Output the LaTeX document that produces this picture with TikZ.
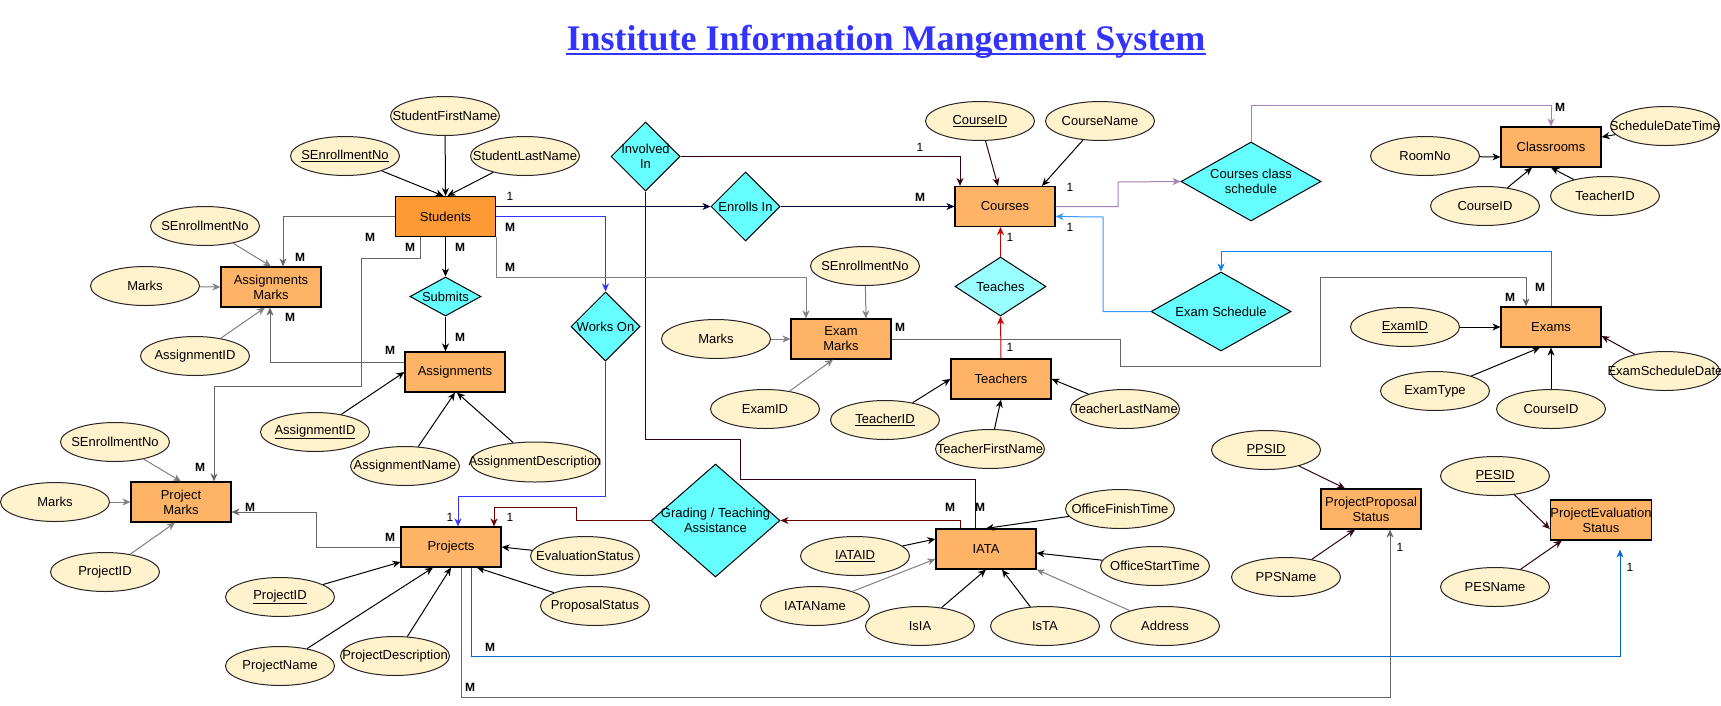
\documentclass[tikz,border=0pt]{standalone}
\usepackage{fontspec}
\setmainfont{Liberation Sans}
\newfontfamily\titlefont{Liberation Serif}
\usetikzlibrary{shapes.geometric,arrows.meta,calc}
\definecolor{entfill}{HTML}{FFB366}
\definecolor{stufill}{HTML}{FF9933}
\definecolor{attfill}{HTML}{FFF2CC}
\definecolor{relfill}{HTML}{66FFFF}
\definecolor{relfillb}{HTML}{99FFFF}
\definecolor{cnavy}{HTML}{000033}
\definecolor{cmaroon}{HTML}{33001A}
\definecolor{cdred}{HTML}{660000}
\definecolor{cblue}{HTML}{3333FF}
\definecolor{cred}{HTML}{CC0000}
\definecolor{clblue}{HTML}{3399FF}
\definecolor{cmblue}{HTML}{007FFF}
\definecolor{cdblue}{HTML}{0066CC}
\definecolor{cpurple}{HTML}{A680B8}
\definecolor{cgray}{HTML}{666666}
\definecolor{clgray}{HTML}{808080}
\definecolor{titleblue}{HTML}{3333FF}
\newcommand{\zw}[1]{\makebox[0pt][c]{#1}}
\begin{document}
\begin{tikzpicture}[x=1pt,y=-1pt,
 font=\fontsize{13}{15}\selectfont,
 ent/.style={draw=black, line width=1.2pt, fill=entfill, minimum width=100pt, minimum height=40pt, inner sep=0pt, align=center},
 att/.style={ellipse, draw=black!85, line width=1pt, fill=attfill, minimum width=109pt, minimum height=39pt, inner sep=0pt},
 rel/.style={diamond, draw=black, line width=1pt, fill=relfill, inner sep=0pt},
 rtext/.style={align=center, inner sep=0pt},
 con/.style={line width=1pt},
 arr/.style={con, -{Stealth[length=8pt,width=7pt,inset=2.5pt]}},
 lab/.style={font=\fontsize{12}{14}\selectfont, inner sep=0pt},
 mlab/.style={font=\fontsize{12}{14}\selectfont\bfseries, inner sep=0pt}
]
\fill[white] (0,0) rectangle (1721,705);
\useasboundingbox (0,0) rectangle (1721,705);

% title
\node[font=\titlefont\bfseries\fontsize{36}{40}\selectfont, text=titleblue, anchor=base, inner sep=0pt] (title) at (886,50) {Institute Information Mangement System};
\draw[titleblue, line width=2pt] ($(title.base west)+(0,4)$) -- ($(title.base east)+(0,4)$);

% entities
\node[ent, fill=stufill] (stu) at (445.5,216.5) {Students};
\node[ent] (am) at (271,287) {Assignments\\Marks};
\node[ent] (asg) at (455,372) {Assignments};
\node[ent] (pm) at (181,502) {Project\\Marks};
\node[ent] (prj) at (451,547) {Projects};
\node[ent] (crs) at (1005,206.5) {Courses};
\node[ent] (em) at (841,339) {Exam\\Marks};
\node[ent] (tch) at (1001,379) {Teachers};
\node[ent] (iata) at (986,549) {IATA};
\node[ent] (cls) at (1551,147) {Classrooms};
\node[ent] (exm) at (1551,327) {Exams};
\node[ent] (pps) at (1371,509) {ProjectProposal\\Status};
\node[ent] (pes) at (1601,520) {ProjectEvaluation\\Status};

% relationships
\node[rel, minimum width=71pt, minimum height=39pt] (sub) at (445.5,296.5) {};
\node[rtext] (subt) at (sub) {Submits};
\node[rel, minimum width=69pt, minimum height=69pt] (wo) at (605.5,326.5) {};
\node[rtext] (wot) at (wo) {Works On};
\node[rel, minimum width=69pt, minimum height=69pt] (inv) at (645.5,156.5) {};
\node[rtext] (invt) at (inv) {Involved\\In};
\node[rel, minimum width=69pt, minimum height=69pt] (enr) at (745.5,206.5) {};
\node[rtext] (enrt) at (enr) {Enrolls In};
\node[rel, fill=relfillb, minimum width=91pt, minimum height=59pt] (tea) at (1000.5,286.5) {};
\node[rtext] (teat) at (tea) {Teaches};
\node[rel, minimum width=129pt, minimum height=113pt] (gta) at (715.5,520.5) {};
\node[rtext] (gtat) at (gta) {Grading / Teaching\\Assistance};
\node[rel, minimum width=140pt, minimum height=79pt] (exs) at (1221,311.5) {};
\node[rtext] (exst) at (exs) {Exam Schedule};
\node[rel, minimum width=140pt, minimum height=79pt] (ccs) at (1251,181.5) {};
\node[rtext] (ccst) at (ccs) {Courses class\\schedule};

% attributes
\node[att] (a_sen) at (345,156) {\zw{\underline{SEnrollmentNo}}};
\node[att] (a_sfn) at (445,116) {\zw{StudentFirstName}};
\node[att] (a_sln) at (525,156) {\zw{StudentLastName}};
\node[att] (a_amsen) at (205,226) {\zw{SEnrollmentNo}};
\node[att] (a_ammk) at (145,286) {\zw{Marks}};
\node[att] (a_amaid) at (195,356) {\zw{AssignmentID}};
\node[att] (a_aid) at (315,432) {\zw{\underline{AssignmentID}}};
\node[att] (a_an) at (405,466) {\zw{AssignmentName}};
\node[att, minimum width=129pt, minimum height=40pt] (a_ad) at (535,462) {\zw{AssignmentDescription}};
\node[att] (a_pmsen) at (115,442) {\zw{SEnrollmentNo}};
\node[att] (a_pmmk) at (55,502) {\zw{Marks}};
\node[att] (a_pmpid) at (105,572) {\zw{ProjectID}};
\node[att] (a_pid) at (280,597) {\zw{\underline{ProjectID}}};
\node[att] (a_pn) at (280,666) {\zw{ProjectName}};
\node[att] (a_pd) at (395,656) {\zw{ProjectDescription}};
\node[att] (a_es) at (585,556) {\zw{EvaluationStatus}};
\node[att] (a_ps) at (595,606) {\zw{ProposalStatus}};
\node[att] (a_cid) at (980,121) {\zw{\underline{CourseID}}};
\node[att] (a_cn) at (1100,121) {\zw{CourseName}};
\node[att] (a_emsen) at (865,266) {\zw{SEnrollmentNo}};
\node[att] (a_emmk) at (716,339) {\zw{Marks}};
\node[att] (a_emeid) at (765,409) {\zw{ExamID}};
\node[att] (a_tid) at (885,420) {\zw{\underline{TeacherID}}};
\node[att] (a_tfn) at (990,449) {\zw{TeacherFirstName}};
\node[att] (a_tln) at (1125,409) {\zw{TeacherLastName}};
\node[att] (a_iid) at (855,556) {\zw{\underline{IATAID}}};
\node[att] (a_in) at (815,606) {\zw{IATAName}};
\node[att] (a_isia) at (920,626) {\zw{IsIA}};
\node[att] (a_ista) at (1045,626) {\zw{IsTA}};
\node[att] (a_addr) at (1165,626) {\zw{Address}};
\node[att] (a_ost) at (1155,566) {\zw{OfficeStartTime}};
\node[att] (a_oft) at (1120,509) {\zw{OfficeFinishTime}};
\node[att] (a_rno) at (1425,156) {\zw{RoomNo}};
\node[att] (a_ccid) at (1485,206) {\zw{CourseID}};
\node[att] (a_ctid) at (1605,196) {\zw{TeacherID}};
\node[att] (a_sdt) at (1665,126) {\zw{ScheduleDateTime}};
\node[att] (a_eid) at (1405,327) {\zw{\underline{ExamID}}};
\node[att] (a_et) at (1435,391) {\zw{ExamType}};
\node[att] (a_ecid) at (1551,409) {\zw{CourseID}};
\node[att] (a_esd) at (1665,371) {\zw{ExamScheduleDate}};
\node[att] (a_ppsid) at (1266,450) {\zw{\underline{PPSID}}};
\node[att] (a_ppsn) at (1286,577) {\zw{PPSName}};
\node[att] (a_pesid) at (1495,476) {\zw{\underline{PESID}}};
\node[att] (a_pesn) at (1495,587) {\zw{PESName}};

% attribute connectors
\draw[arr] (a_sen) -- ($(stu.north)+(-2,0)$);
\draw[arr] (a_sfn) -- (stu.north);
\draw[arr] (a_sln) -- ($(stu.north)+(2,0)$);
\draw[arr,clgray] (a_amsen) -- (am.north);
\draw[arr,clgray] (a_ammk) -- (am.west);
\draw[arr,clgray] (a_amaid) -- ($(am.south)+(-6,0)$);
\draw[arr] (a_aid) -- (asg.west);
\draw[arr] (a_an) -- (asg.south);
\draw[arr] (a_ad) -- ($(asg.south)+(2,0)$);
\draw[arr,clgray] (a_pmsen) -- (pm.north);
\draw[arr,clgray] (a_pmmk) -- (pm.west);
\draw[arr,clgray] (a_pmpid) -- ($(pm.south)+(-6,0)$);
\draw[arr] (a_pid) -- ($(prj.west)+(0,15)$);
\draw[arr] (a_pn) -- ($(prj.south)+(-18,0)$);
\draw[arr] (a_pd) -- (prj.south);
\draw[arr] (a_es) -- (prj.east);
\draw[arr] (a_ps) -- ($(prj.south)+(26,0)$);
\draw[arr,cmaroon] (a_cid) -- ($(crs.north)+(-7,0)$);
\draw[arr] (a_cn) -- ($(crs.north)+(37,0)$);
\draw[arr,clgray] (a_emsen) -- ($(em.north)+(25,0)$);
\draw[arr,clgray] (a_emmk) -- (em.west);
\draw[arr,clgray] (a_emeid) -- ($(em.south)+(-8,0)$);
\draw[arr] (a_tid) -- (tch.west);
\draw[arr] (a_tfn) -- (tch.south);
\draw[arr] (a_tln) -- (tch.east);
\draw[arr] (a_iid) -- ($(iata.west)+(0,-10)$);
\draw[arr,clgray] (a_in) -- ($(iata.west)+(0,10)$);
\draw[arr] (a_isia) -- (iata.south);
\draw[arr] (a_ista) -- ($(iata.south)+(16,0)$);
\draw[arr,clgray] (a_addr) -- (iata.south east);
\draw[arr] (a_ost) -- ($(iata.east)+(0,4)$);
\draw[arr] (a_oft) -- (iata.north);
\draw[arr] (a_rno) -- ($(cls.west)+(0,10)$);
\draw[arr] (a_ccid) -- ($(cls.south)+(-19,0)$);
\draw[arr] (a_ctid) -- (cls.south);
\draw[arr] (a_sdt) -- ($(cls.east)+(0,-10)$);
\draw[arr] (a_eid) -- (exm.west);
\draw[arr] (a_et) -- ($(exm.south)+(-11,0)$);
\draw[arr] (a_ecid) -- (exm.south);
\draw[arr,cmaroon] (a_esd) -- ($(exm.east)+(0,9)$);
\draw[arr,cmaroon] (a_ppsid) -- ($(pps.north)+(-26,0)$);
\draw[arr,cmaroon] (a_ppsn) -- ($(pps.south)+(-16,0)$);
\draw[arr,cmaroon] (a_pesid) -- ($(pes.west)+(0,9)$);
\draw[arr,cmaroon] (a_pesn) -- ($(pes.south west)+(12,0)$);

% relationship connectors
\draw[arr,cgray] (stu.west) -| ($(am.north)+(12,0)$);
\draw[arr,cgray] ($(stu.south)+(-25,0)$) -- ++(0,21) -| (361,386) -| ($(pm.north)+(33,0)$);
\draw[arr] (stu.south) -- (sub.north);
\draw[arr] (sub.south) -- (sub.south |- asg.north);
\draw[arr,cgray] ($(asg.west)+(0,-10)$) -| ($(am.south)+(-1,0)$);
\draw[arr,cblue] (stu.east) -| (wo.north);
\draw[arr,cblue] (wo.south) -- (605.5,496) -| ($(prj.north)+(7,0)$);
\draw[arr,cnavy] ($(stu.east)+(0,-10)$) -- (enr.west);
\draw[arr,cnavy] (enr.east) -- (crs.west);
\draw[arr,cmaroon] (inv.east) -| ($(crs.north)+(-45,0)$);
\draw[con,cmaroon] (inv.south) |- (740,439) -- (740,479) -| ($(iata.north)+(-11,0)$);
\draw[arr,cdred] ($(iata.north)+(-26,0)$) |- (gta.east);
\draw[arr,cdred] (gta.west) -| (576,507) -| ($(prj.north)+(43,0)$);
\draw[arr,cgray] (prj.west) -| (316,512) -- ($(pm.east)+(0,10)$);
\draw[arr,cgray] ($(prj.south)+(10,0)$) |- (1390,697) -- ($(pps.south)+(19,0)$);
\draw[arr,cdblue] ($(prj.south)+(20,0)$) |- (1620,656) -- ($(pes.south)+(19,9)$);
\draw[arr,clgray] (stu.south east) |- (806,277) -- ($(em.north)+(-35,0)$);
\draw[arr,cgray] (em.east) -| (1120,366) -| (1320,277) -| ($(exm.north)+(-25,0)$);
\draw[arr,clblue] (exs.west) -| (1103,217) -- ($(crs.east)+(0,10)$);
\draw[arr,cmblue] (exm.north) -- ++(0,-55) -| (exs.north);
\draw[arr,cpurple] (crs.east) -| (1118,182) -- (ccs.west);
\draw[arr,cpurple] (ccs.north) |- ($(cls.north)+(0,-21)$) -- (cls.north);
\draw[arr,cred] (tea.north) -- (tea.north |- crs.south);
\draw[arr,cred] (tch.north) -- (tea.south);

% cardinality labels
\node[lab] (l1) at (510,196) {1};
\node[mlab] (l2) at (920,197) {M};
\node[lab] (l3) at (920,147) {1};
\node[mlab] (l4) at (510,227) {M};
\node[mlab] (l5) at (510,267) {M};
\node[mlab] (l6) at (460,247) {M};
\node[mlab] (l7) at (460,337) {M};
\node[mlab] (l8) at (370,237) {M};
\node[mlab] (l9) at (410,247) {M};
\node[mlab] (l10) at (300,257) {M};
\node[mlab] (l11) at (290,317) {M};
\node[mlab] (l12) at (390,350) {M};
\node[mlab] (l13) at (200,467) {M};
\node[mlab] (l14) at (250,507) {M};
\node[mlab] (l15) at (390,537) {M};
\node[lab] (l16) at (450,517) {1};
\node[lab] (l17) at (510,517) {1};
\node[mlab] (l18) at (490,647) {M};
\node[mlab] (l19) at (470,687) {M};
\node[mlab] (l20) at (950,507) {M};
\node[mlab] (l21) at (980,507) {M};
\node[lab] (l22) at (1400,547) {1};
\node[lab] (l23) at (1630,567) {1};
\node[mlab] (l24) at (900,327) {M};
\node[lab] (l25) at (1070,187) {1};
\node[lab] (l26) at (1070,227) {1};
\node[lab] (l27) at (1010,237) {1};
\node[lab] (l28) at (1010,347) {1};
\node[mlab] (l29) at (1560,107) {M};
\node[mlab] (l30) at (1510,297) {M};
\node[mlab] (l31) at (1540,287) {M};
\end{tikzpicture}
\end{document}
